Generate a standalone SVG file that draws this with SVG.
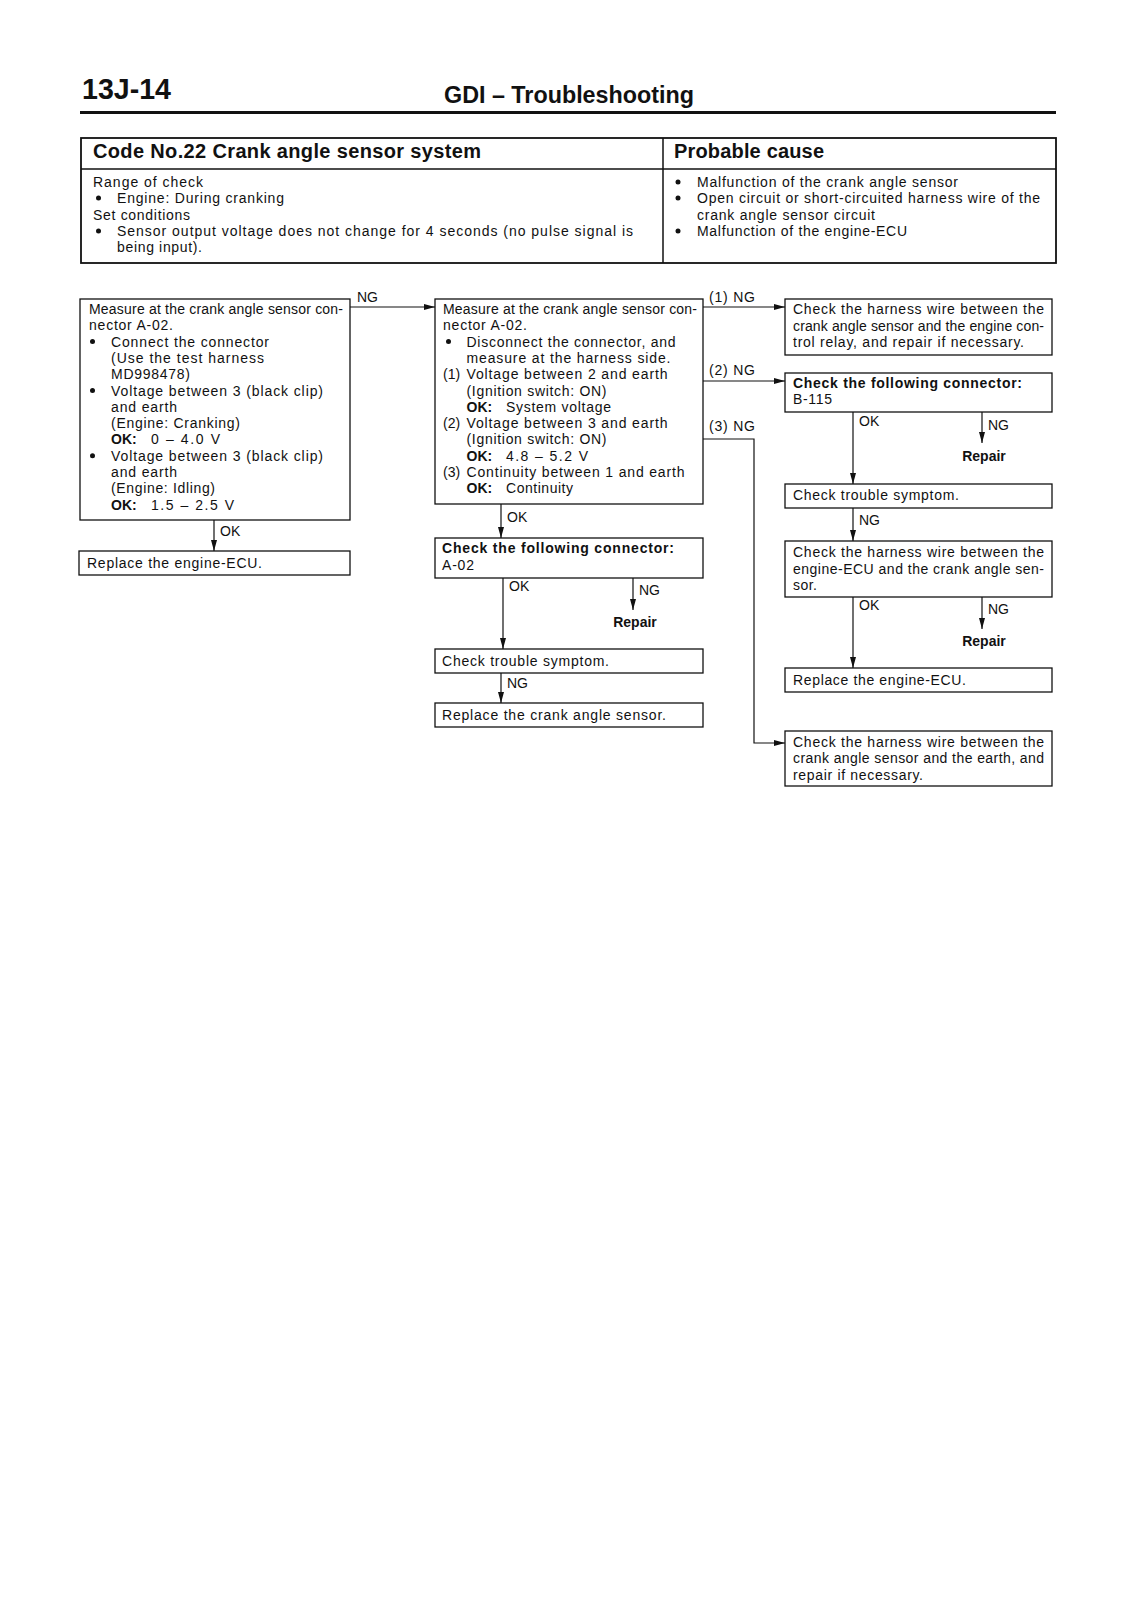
<svg xmlns="http://www.w3.org/2000/svg" width="1131" height="1600" viewBox="0 0 1131 1600">
<style>
text{font-family:"Liberation Sans",Arial,Helvetica,sans-serif;fill:#111}
.t{font-size:14px}
.b{font-weight:bold}
.h{font-size:20px;font-weight:bold}
.box{fill:none;stroke:#111;stroke-width:1.3}
.dot{fill:#111}
.conn path,.conn line{fill:none;stroke:#111;stroke-width:1.2}
</style>
<defs>
<marker id="ah" viewBox="0 0 11 6" refX="11" refY="3" markerWidth="11" markerHeight="6" markerUnits="userSpaceOnUse" orient="auto">
<path d="M0,0 L11,3 L0,6 z" fill="#111"/>
</marker>
</defs>
<rect width="1131" height="1600" fill="#fff"/>

<g id="page-header">
<text x="82" y="99" font-size="30" font-weight="bold" textLength="89" lengthAdjust="spacingAndGlyphs">13J-14</text>
<text x="444" y="103" font-size="24" font-weight="bold" textLength="250" lengthAdjust="spacingAndGlyphs">GDI – Troubleshooting</text>
<line x1="80" y1="112.5" x2="1056" y2="112.5" stroke="#111" stroke-width="3"/>
</g>

<g id="code-table">
<rect x="81" y="138" width="975" height="125" fill="none" stroke="#111" stroke-width="1.8"/>
<line x1="81" y1="169" x2="1056" y2="169" stroke="#111" stroke-width="1.5"/>
<line x1="663" y1="138" x2="663" y2="263" stroke="#111" stroke-width="1.5"/>
<text class="h" x="93" y="158" textLength="388">Code No.22 Crank angle sensor system</text>
<text class="h" x="674" y="158" textLength="150">Probable cause</text>
<text class="t" x="93" y="187" textLength="110">Range of check</text>
<circle class="dot" cx="98.5" cy="198" r="2.5"/>
<text class="t" x="117" y="203" textLength="167">Engine: During cranking</text>
<text class="t" x="93" y="219.5" textLength="97">Set conditions</text>
<circle class="dot" cx="98.5" cy="231" r="2.5"/>
<text class="t" x="117" y="236" textLength="516">Sensor output voltage does not change for 4 seconds (no pulse signal is</text>
<text class="t" x="117" y="252" textLength="85">being input).</text>
<circle class="dot" cx="678" cy="182" r="2.5"/>
<text class="t" x="697" y="187" textLength="261">Malfunction of the crank angle sensor</text>
<circle class="dot" cx="678" cy="198" r="2.5"/>
<text class="t" x="697" y="203" textLength="343">Open circuit or short-circuited harness wire of the</text>
<text class="t" x="697" y="219.5" textLength="178">crank angle sensor circuit</text>
<circle class="dot" cx="678" cy="231" r="2.5"/>
<text class="t" x="697" y="236" textLength="210">Malfunction of the engine-ECU</text>
</g>

<g id="node-measure-connected">
<rect class="box" x="80" y="299" width="270" height="221"/>
<text class="t" x="89" y="314" textLength="254">Measure at the crank angle sensor con-</text>
<text class="t" x="89" y="330.3" textLength="84">nector A-02.</text>
<circle class="dot" cx="92.5" cy="341.6" r="2.5"/>
<text class="t" x="111" y="346.6" textLength="158">Connect the connector</text>
<text class="t" x="111" y="362.9" textLength="153">(Use the test harness</text>
<text class="t" x="111" y="379.2" textLength="79">MD998478)</text>
<circle class="dot" cx="92.5" cy="390.5" r="2.5"/>
<text class="t" x="111" y="395.5" textLength="212">Voltage between 3 (black clip)</text>
<text class="t" x="111" y="411.8" textLength="66">and earth</text>
<text class="t" x="111" y="428.1" textLength="129">(Engine: Cranking)</text>
<text class="t b" x="111" y="444.4">OK:</text>
<text class="t" x="151" y="444.4" textLength="69">0 – 4.0 V</text>
<circle class="dot" cx="92.5" cy="455.7" r="2.5"/>
<text class="t" x="111" y="460.7" textLength="212">Voltage between 3 (black clip)</text>
<text class="t" x="111" y="477" textLength="66">and earth</text>
<text class="t" x="111" y="493.3" textLength="104">(Engine: Idling)</text>
<text class="t b" x="111" y="509.6">OK:</text>
<text class="t" x="151" y="509.6" textLength="83">1.5 – 2.5 V</text>
</g>

<g id="node-replace-ecu-1">
<rect class="box" x="79" y="551" width="271" height="24"/>
<text class="t" x="87" y="568" textLength="175">Replace the engine-ECU.</text>
</g>

<g id="node-measure-disconnected">
<rect class="box" x="435" y="299" width="268" height="205"/>
<text class="t" x="443" y="314" textLength="254">Measure at the crank angle sensor con-</text>
<text class="t" x="443" y="330.3" textLength="84">nector A-02.</text>
<circle class="dot" cx="448.5" cy="341.6" r="2.5"/>
<text class="t" x="466.5" y="346.6" textLength="209">Disconnect the connector, and</text>
<text class="t" x="466.5" y="362.9" textLength="204">measure at the harness side.</text>
<text class="t" x="443" y="379.2">(1)</text>
<text class="t" x="466.5" y="379.2" textLength="201">Voltage between 2 and earth</text>
<text class="t" x="466.5" y="395.5" textLength="140">(Ignition switch: ON)</text>
<text class="t b" x="466.5" y="411.8">OK:</text>
<text class="t" x="506" y="411.8" textLength="105">System voltage</text>
<text class="t" x="443" y="428.1">(2)</text>
<text class="t" x="466.5" y="428.1" textLength="201">Voltage between 3 and earth</text>
<text class="t" x="466.5" y="444.4" textLength="140">(Ignition switch: ON)</text>
<text class="t b" x="466.5" y="460.7">OK:</text>
<text class="t" x="506" y="460.7" textLength="82">4.8 – 5.2 V</text>
<text class="t" x="443" y="477">(3)</text>
<text class="t" x="466.5" y="477" textLength="218">Continuity between 1 and earth</text>
<text class="t b" x="466.5" y="493.3">OK:</text>
<text class="t" x="506" y="493.3" textLength="67">Continuity</text>
</g>

<g id="node-check-connector-a02">
<rect class="box" x="435" y="538" width="268" height="40"/>
<text class="t b" x="442" y="553" textLength="232">Check the following connector:</text>
<text class="t" x="442" y="569.5" textLength="32">A-02</text>
</g>

<g id="node-repair-1">
<text class="t b" x="635" y="627" text-anchor="middle">Repair</text>
</g>

<g id="node-check-symptom-1">
<rect class="box" x="435" y="649" width="268" height="24"/>
<text class="t" x="442" y="666" textLength="167">Check trouble symptom.</text>
</g>

<g id="node-replace-sensor">
<rect class="box" x="435" y="703" width="268" height="24"/>
<text class="t" x="442" y="720" textLength="224">Replace the crank angle sensor.</text>
</g>

<g id="node-harness-relay">
<rect class="box" x="785" y="299" width="267" height="56"/>
<text class="t" x="793" y="314" textLength="251">Check the harness wire between the</text>
<text class="t" x="793" y="330.5" textLength="251">crank angle sensor and the engine con-</text>
<text class="t" x="793" y="347" textLength="231">trol relay, and repair if necessary.</text>
</g>

<g id="node-check-connector-b115">
<rect class="box" x="785" y="373" width="267" height="39"/>
<text class="t b" x="793" y="388" textLength="229">Check the following connector:</text>
<text class="t" x="793" y="404" textLength="39">B-115</text>
</g>

<g id="node-repair-2">
<text class="t b" x="984" y="461" text-anchor="middle">Repair</text>
</g>

<g id="node-check-symptom-2">
<rect class="box" x="785" y="484" width="267" height="24"/>
<text class="t" x="793" y="500" textLength="166">Check trouble symptom.</text>
</g>

<g id="node-harness-ecu">
<rect class="box" x="785" y="541" width="267" height="56"/>
<text class="t" x="793" y="557" textLength="251">Check the harness wire between the</text>
<text class="t" x="793" y="573.5" textLength="251">engine-ECU and the crank angle sen-</text>
<text class="t" x="793" y="590" textLength="24">sor.</text>
</g>

<g id="node-repair-3">
<text class="t b" x="984" y="646" text-anchor="middle">Repair</text>
</g>

<g id="node-replace-ecu-2">
<rect class="box" x="785" y="668" width="267" height="24"/>
<text class="t" x="793" y="685" textLength="173">Replace the engine-ECU.</text>
</g>

<g id="node-harness-earth">
<rect class="box" x="785" y="731" width="267" height="55"/>
<text class="t" x="793" y="746.5" textLength="251">Check the harness wire between the</text>
<text class="t" x="793" y="763" textLength="251">crank angle sensor and the earth, and</text>
<text class="t" x="793" y="779.5" textLength="130">repair if necessary.</text>
</g>

<g id="connectors" class="conn">
<line x1="350" y1="307" x2="435" y2="307" marker-end="url(#ah)"/>
<line x1="214" y1="520" x2="214" y2="551" marker-end="url(#ah)"/>
<line x1="501" y1="504" x2="501" y2="538" marker-end="url(#ah)"/>
<line x1="503" y1="578" x2="503" y2="649" marker-end="url(#ah)"/>
<line x1="633" y1="578" x2="633" y2="610" marker-end="url(#ah)"/>
<line x1="501" y1="673" x2="501" y2="703" marker-end="url(#ah)"/>
<line x1="703" y1="307" x2="785" y2="307" marker-end="url(#ah)"/>
<line x1="703" y1="381" x2="785" y2="381" marker-end="url(#ah)"/>
<path d="M703,439 H754 V743 H785" marker-end="url(#ah)"/>
<line x1="853" y1="412" x2="853" y2="484" marker-end="url(#ah)"/>
<line x1="982" y1="412" x2="982" y2="443" marker-end="url(#ah)"/>
<line x1="853" y1="508" x2="853" y2="541" marker-end="url(#ah)"/>
<line x1="853" y1="597" x2="853" y2="668" marker-end="url(#ah)"/>
<line x1="982" y1="597" x2="982" y2="629" marker-end="url(#ah)"/>
<g class="labels">
<text class="t" x="357" y="302">NG</text>
<text class="t" x="220" y="536">OK</text>
<text class="t" x="507" y="522">OK</text>
<text class="t" x="509" y="591">OK</text>
<text class="t" x="639" y="595">NG</text>
<text class="t" x="507" y="688">NG</text>
<text class="t" x="709" y="302" textLength="46">(1) NG</text>
<text class="t" x="709" y="375" textLength="46">(2) NG</text>
<text class="t" x="709" y="431" textLength="46">(3) NG</text>
<text class="t" x="859" y="426">OK</text>
<text class="t" x="988" y="430">NG</text>
<text class="t" x="859" y="525">NG</text>
<text class="t" x="859" y="610">OK</text>
<text class="t" x="988" y="614">NG</text>
</g>
</g>
</svg>
